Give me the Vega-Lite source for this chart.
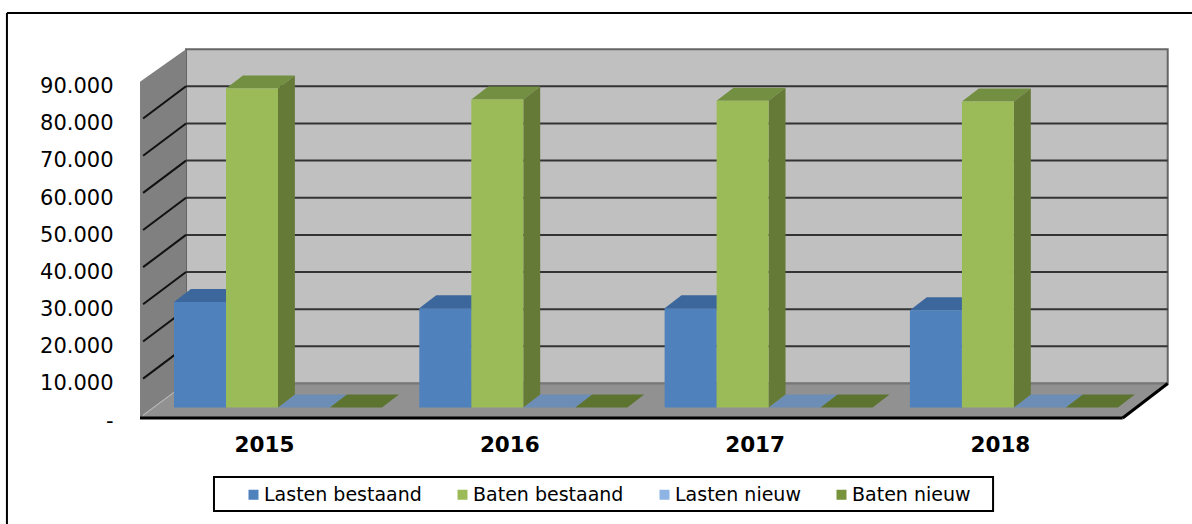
{
"$schema":"https://vega.github.io/schema/vega-lite/v6.json",
"width":1192,"height":524,"padding":0,"autosize":{"type":"none"},
"background":"white",
"config":{"view":{"stroke":null},"font":"DejaVu Sans"},
"datasets":{
"ticks":[{"tick":10000},{"tick":20000},{"tick":30000},{"tick":40000},{"tick":50000},{"tick":60000},{"tick":70000},{"tick":80000}],
"sidewall":[{"x":2014.4905,"top":90500,"bottom":0},{"x":2014.678,"top":99287,"bottom":9287}],
"floor":[{"v":0,"xl":2014.4905,"xr":2018.4966},{"v":9287,"xl":2014.678,"xr":2018.68}],
"backwall":[{"xl":2014.678,"xr":2018.68,"vb":9287,"vt":99287}],
"frontedge":[{"xa":2014.4905,"xb":2018.4966,"va":0,"vb":0},{"xa":2018.4966,"xb":2018.68,"va":0,"vb":9287}],
"seam":[{"xa":2014.503,"xb":2014.678,"va":800,"vb":9287}],
"floorback":[{"xa":2014.678,"xb":2018.68,"va":9287}],
"frame":[{"xa":2013.948,"xb":2018.779,"va":109017,"vb":109017},{"xa":2013.948,"xb":2013.948,"va":109017,"vb":-28533}],
"legendbox":[{"xl":2014.792,"xr":2017.968,"vt":-15882,"vb":-25034}]
},
"data":{"values":[
{"year":2015,"series":"Lasten bestaand","value":28400},
{"year":2015,"series":"Baten bestaand","value":85900},
{"year":2015,"series":"Lasten nieuw","value":0},
{"year":2015,"series":"Baten nieuw","value":0},
{"year":2016,"series":"Lasten bestaand","value":26700},
{"year":2016,"series":"Baten bestaand","value":82900},
{"year":2016,"series":"Lasten nieuw","value":0},
{"year":2016,"series":"Baten nieuw","value":0},
{"year":2017,"series":"Lasten bestaand","value":26700},
{"year":2017,"series":"Baten bestaand","value":82600},
{"year":2017,"series":"Lasten nieuw","value":0},
{"year":2017,"series":"Baten nieuw","value":0},
{"year":2018,"series":"Lasten bestaand","value":26200},
{"year":2018,"series":"Baten bestaand","value":82400},
{"year":2018,"series":"Lasten nieuw","value":0},
{"year":2018,"series":"Baten nieuw","value":0}
]},
"transform":[
{"calculate":"indexof(['Lasten bestaand','Baten bestaand','Lasten nieuw','Baten nieuw'],datum.series)","as":"idx"},
{"calculate":"datum.year-0.371+datum.idx*0.212","as":"xl"},
{"calculate":"datum.xl+0.212","as":"xr"},
{"calculate":"2823","as":"y0"},
{"calculate":"datum.value+2823","as":"yt"},
{"calculate":"[0,1]","as":"t"},
{"flatten":["t"]},
{"calculate":"datum.t*0.0689","as":"dx"},
{"calculate":"datum.t*3503","as":"dv"},
{"calculate":"datum.xr+datum.dx","as":"sx"},
{"calculate":"datum.xl+datum.dx","as":"tl"},
{"calculate":"datum.xr+datum.dx","as":"tr"},
{"calculate":"datum.yt+datum.dv","as":"sy"},
{"calculate":"datum.y0+datum.dv","as":"sb"}
],
"layer":[
{"data":{"name":"frame"},"mark":{"type":"rule","color":"#000","strokeWidth":2},
 "encoding":{
  "x":{"field":"xa","type":"quantitative","scale":{"domain":[2013.9197,2018.779],"nice":false,"zero":false},
   "axis":{"values":[2015,2016,2017,2018],"format":"d","title":null,"domain":false,"ticks":false,"grid":false,"labelFontSize":21.5,"labelFontWeight":"bold","labelColor":"#000","labelPadding":0,"labelOffset":-1,"offset":-90}},
  "x2":{"field":"xb"},
  "y":{"field":"va","type":"quantitative","scale":{"domain":[-28533,112517],"nice":false,"zero":false},
   "axis":{"values":[0,10000,20000,30000,40000,50000,60000,70000,80000,90000],"labelExpr":"datum.value==0?'-':replace(format(datum.value,','),',','.')","title":null,"domain":false,"ticks":false,"grid":false,"labelFontSize":21,"labelColor":"#000","labelPadding":0,"labelOffset":3,"offset":-113}},
  "y2":{"field":"vb"}}},
{"data":{"name":"backwall"},"mark":{"type":"rect","fill":"#C0C0C0","stroke":"#666","strokeWidth":2},
 "encoding":{"x":{"field":"xl","type":"quantitative"},"x2":{"field":"xr"},"y":{"field":"vb","type":"quantitative"},"y2":{"field":"vt"}}},
{"data":{"name":"ticks"},"transform":[{"calculate":"datum.tick+9287","as":"back"},{"calculate":"2014.678","as":"xa"},{"calculate":"2018.68","as":"xb"}],
 "mark":{"type":"rule","color":"#333","strokeWidth":2},
 "encoding":{"x":{"field":"xa","type":"quantitative"},"x2":{"field":"xb"},"y":{"field":"back","type":"quantitative"}}},
{"data":{"name":"sidewall"},"mark":{"type":"area","fill":"#808080"},
 "encoding":{"x":{"field":"x","type":"quantitative"},"y":{"field":"top","type":"quantitative"},"y2":{"field":"bottom"}}},
{"data":{"name":"ticks"},"transform":[{"calculate":"datum.tick+9287","as":"back"},{"calculate":"datum.tick+600","as":"front"},{"calculate":"2014.678","as":"xb"},{"calculate":"2014.503","as":"xa"}],
 "mark":{"type":"rule","color":"#111","strokeWidth":2},
 "encoding":{"x":{"field":"xa","type":"quantitative"},"x2":{"field":"xb"},"y":{"field":"front","type":"quantitative"},"y2":{"field":"back"}}},
{"data":{"name":"floor"},"mark":{"type":"area","orient":"horizontal","fill":"#919191"},
 "encoding":{"x":{"field":"xl","type":"quantitative"},"x2":{"field":"xr"},"y":{"field":"v","type":"quantitative"}}},
{"data":{"name":"floorback"},"mark":{"type":"rule","color":"#777","strokeWidth":2},
 "encoding":{"x":{"field":"xa","type":"quantitative"},"x2":{"field":"xb"},"y":{"field":"va","type":"quantitative"}}},
{"data":{"name":"seam"},"mark":{"type":"rule","color":"#bdbdbd","strokeWidth":1},
 "encoding":{"x":{"field":"xa","type":"quantitative"},"x2":{"field":"xb"},"y":{"field":"va","type":"quantitative"},"y2":{"field":"vb"}}},
{"data":{"name":"frontedge"},"mark":{"type":"rule","color":"#000","strokeWidth":3},
 "encoding":{"x":{"field":"xa","type":"quantitative"},"x2":{"field":"xb"},"y":{"field":"va","type":"quantitative"},"y2":{"field":"vb"}}},
{"mark":{"type":"area","orient":"horizontal"},
 "encoding":{"x":{"field":"tl","type":"quantitative"},"x2":{"field":"tr"},"y":{"field":"sy","type":"quantitative"},"detail":{"field":"year"},
  "color":{"field":"series","type":"nominal","legend":null,"scale":{"domain":["Lasten bestaand","Baten bestaand","Lasten nieuw","Baten nieuw"],"range":["#3C679C","#738F42","#6C8DB5","#5C7430"]}}}},
{"transform":[{"filter":"datum.idx<2"}],"mark":{"type":"area"},
 "encoding":{"x":{"field":"sx","type":"quantitative"},"y":{"field":"sy","type":"quantitative"},"y2":{"field":"sb"},"detail":{"field":"year"},
  "color":{"field":"series","type":"nominal","legend":null,"scale":{"domain":["Lasten bestaand","Baten bestaand"],"range":["#3A5F8F","#667A38"]}}}},
{"data":{"name":"legendbox"},"mark":{"type":"rect","fill":"white","stroke":"#000","strokeWidth":2},
 "encoding":{"x":{"field":"xl","type":"quantitative"},"x2":{"field":"xr"},"y":{"field":"vb","type":"quantitative"},"y2":{"field":"vt"}}},
{"transform":[{"filter":"datum.t==0"}],"mark":{"type":"rect"},
 "encoding":{"x":{"field":"xl","type":"quantitative"},"x2":{"field":"xr"},"y":{"field":"yt","type":"quantitative"},"y2":{"field":"y0"},
  "color":{"field":"series","type":"nominal","scale":{"domain":["Lasten bestaand","Baten bestaand","Lasten nieuw","Baten nieuw"],"range":["#4F81BD","#9BBB59","#8EB4E3","#77933C"]},
   "legend":{"orient":"none","legendX":244,"legendY":485,"direction":"horizontal","columns":4,"title":null,"padding":0,"columnPadding":31,"symbolType":"square","symbolSize":100,"symbolStrokeWidth":0,"labelFontSize":19,"labelColor":"#000","labelOffset":1,"labelLimit":300}}}}
],
"resolve":{"scale":{"color":"independent"}}
}
